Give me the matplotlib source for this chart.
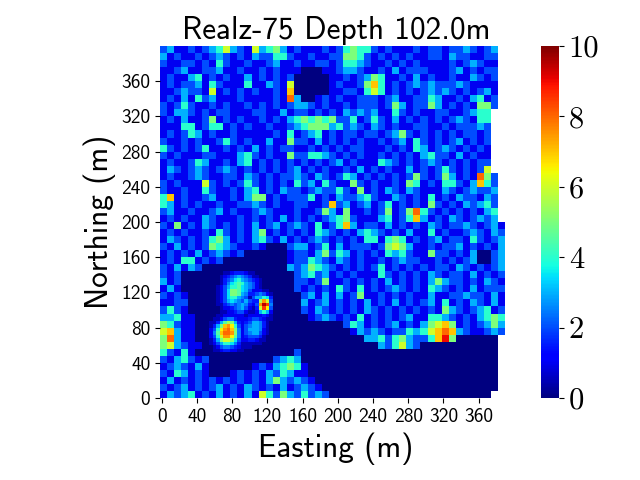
import numpy as np
import matplotlib
matplotlib.use("Agg")
import matplotlib.pyplot as plt

# values, 8 m cells, top row first, '.' is no data
rows = [
    "2311212346 3216345312 1112124544 2121112122 12232123..",
    "3121121232 1213224421 1211225542 1212121122 13221122..",
    "2112212142 1121123112 1122124432 1121212111 12123211..",
    "1123112231 1211212111 0001123321 1213122211 12312122..",
    "1211341212 1131212120 0000112123 5411213121 12113212..",
    "1212231421 1141132160 0000121125 7412123232 22321111..",
    "1123221612 1212112170 0000112214 6412121232 32121231..",
    "1213142311 1211112183 0012121122 2123112243 11213412..",
    "2124211212 1121212123 3212112122 2125312253 12121552..",
    "2133212122 1112211312 2121213232 3114212112 2112344...",
    "1213112512 1211212134 5454522412 4213121212 1232144...",
    "1114412441 2121121123 4555342321 3212112211 2122232...",
    "1212431211 2111112141 2341212212 2123521212 1212212...",
    "2112121124 2121131152 2131212121 1212314212 1231212...",
    "4212124112 1213121221 1212121221 1121214312 3212121...",
    "2121112211 1342121152 2443212121 1212121342 2131211...",
    "1211243112 1341212121 2121231211 1432121232 1212122...",
    "1321232123 2121212123 1212112131 2121131212 4212126...",
    "1211232112 2132121223 2132124312 1212125212 53121852..",
    "2121116212 1242121214 2314211521 2112154121 44213742..",
    "2112114211 2134121322 1232242151 2132132111 32123223..",
    "4712112311 2135512122 2412132234 2113212141 21322132..",
    "4312121121 1223212112 2112723123 1241212152 12132342..",
    "2311211231 2112321112 1125315112 1251258421 21212134..",
    "1212113211 1212121312 1212345211 1341247312 13212323..",
    "2151213212 1213123123 2141247312 2131212132 122321231.",
    "1212112142 1213512121 2143212134 3212131141 211232132.",
    "1321212453 1213421312 1232121214 4145412123 122142123.",
    "2131212543 2112100023 3124131222 1256531121 223121213.",
    "1212131232 1200000012 2135243121 2143421152 212130023.",
    "1214412120 0000000012 2432132121 1212322112 121230023.",
    "2131320000 0000000032 3543212121 2412121212 213212123.",
    "2120000000 0000000002 3423121211 1421212132 122131212.",
    "3120000000 0000000002 2125112121 2131212135 322121321.",
    "1310000000 0000000002 1212142141 2123212143 212131222.",
    "2121000000 0000000000 2313131251 1212121131 122322131.",
    "1122000000 0000000000 3123121213 1213121231 412132131.",
    "2421000000 0000000000 2132121213 2121212121 532123412.",
    "3341100023 0000000000 0123212141 2121231144 321213454.",
    "5421100000 0000000000 0000002431 2123121356 751212353.",
    "6731100000 0000000000 0000000132 3212243467 873211232.",
    "5831100000 0000000000 0000000003 3424532247 95000000..",
    "5632110000 0000000000 0000000000 0324632000 00000000..",
    "4214100000 0000000002 0000000000 0000000000 00000000..",
    "2134212000 0000002343 0000000000 0000000000 00000000..",
    "1232131000 0001213454 1000000000 0000000000 00000000..",
    "2143121000 1212132431 1000000000 0000000000 00000000..",
    "1312121212 1212135323 2100000000 0000000000 00000000..",
    "2123121231 2132121312 3210000000 0000000000 00000000..",
    "1323412131 2131642532 4232000000 0000000000 0000000...",
]

# the smooth peaks in the tilted square, 4 m cells, half units (a=10 -> 5.0)
peak_rows = [
    "000011233321100000",
    "000123456543110000",
    "000134578654321000",
    "000135789865421000",
    "001246889765421000",
    "001247aa9764222110",
    "001247aa9653345421",
    "001247886541466873",
    "00124676546433bfc4",
    "00113454565324fjh5",
    "00012234564213chd4",
    "000112234421126862",
    "001122222212222321",
    "011245532223443211",
    "11369ba63234665310",
    "136aefd84245665310",
    "248dfgea5246665210",
    "259eggfa5245664210",
    "248cffd95234443100",
    "136acca74223321100",
    "124688753111111000",
    "012455432111000000",
    "011233221100000000",
]
x_ticks = [0, 40, 80, 120, 160, 200, 240, 280, 320, 360]
y_ticks = [0, 40, 80, 120, 160, 200, 240, 280, 320, 360]
cbar_ticks = [0, 2, 4, 6, 8, 10]

field = []
for r in rows:
    r = r.replace(" ", "").ljust(50, ".")[:50]
    field.append([np.nan if c == "." else float(c) for c in r])
field = np.array(field)[::-1]

peaks = np.array([[int(c, 20) / 2 for c in r] for r in peak_rows])[::-1]

edges = np.arange(0, 408, 8)
peak_x = np.arange(56, 132, 4)
peak_y = np.arange(52, 148, 4)

fig = plt.figure(figsize=(6.4, 4.8), dpi=100)
ax = fig.add_axes([160 / 640, 82 / 480, 352 / 640, 352 / 480])
cax = fig.add_axes([541 / 640, 82 / 480, 18 / 640, 352 / 480])

mesh = ax.pcolormesh(edges, edges, field, cmap="jet", vmin=0, vmax=10)
ax.pcolormesh(peak_x, peak_y, peaks, cmap="jet", vmin=0, vmax=10)
ax.set_xlim(0, 400)
ax.set_ylim(0, 400)
ax.set_aspect("equal")
for s in ax.spines.values():
    s.set_visible(False)

ax.set_xticks([t + 2 for t in x_ticks])
ax.set_xticklabels(x_ticks, family="cmss10", fontsize=14)
ax.set_yticks(y_ticks)
ax.set_yticklabels(y_ticks, family="cmss10", fontsize=14)
ax.set_xlabel("Easting (m)", family="cmss10", fontsize=22.5, labelpad=5)
ax.set_ylabel("Northing (m)", family="cmss10", fontsize=22.5, labelpad=4)
ax.set_title("Realz-75 Depth 102.0m", family="cmss10", fontsize=22.5, pad=5)

cb = fig.colorbar(mesh, cax=cax)
cb.outline.set_visible(False)
cb.set_ticks(cbar_ticks)
cb.set_ticklabels(cbar_ticks, family="cmr10", fontsize=22)

fig.savefig("out.png", dpi=100)
